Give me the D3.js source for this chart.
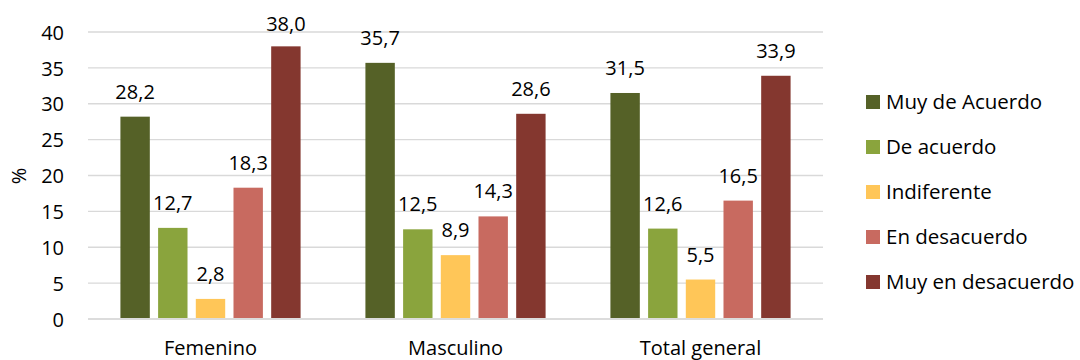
<!DOCTYPE html>
<html>
<head>
<meta charset="utf-8">
<script src="https://cdn.jsdelivr.net/npm/d3@7"></script>
<style>
  html, body { margin: 0; padding: 0; background: #fff; }
  svg { display: block; font-family: "Open Sans", sans-serif; }
</style>
</head>
<body>
<svg id="chart" width="1080" height="360"></svg>
<script>
// Survey responses (%) by sex
const categories = ["Femenino", "Masculino", "Total general"];
const seriesNames = ["Muy de Acuerdo", "De acuerdo", "Indiferente", "En desacuerdo", "Muy en desacuerdo"];
const muyDeAcuerdo     = [28.2, 35.7, 31.5];
const deAcuerdo        = [12.7, 12.5, 12.6];
const indiferente      = [2.8, 8.9, 5.5];
const enDesacuerdo     = [18.3, 14.3, 16.5];
const muyEnDesacuerdo  = [38.0, 28.6, 33.9];
const yTicks = [0, 5, 10, 15, 20, 25, 30, 35, 40];
const colors = ["#556127", "#8AA43D", "#FFC658", "#C86A60", "#84372F"];

const seriesValues = [muyDeAcuerdo, deAcuerdo, indiferente, enDesacuerdo, muyEnDesacuerdo];
const fmt = v => v.toFixed(1).replace(".", ",");
const FS = 20;

const svg = d3.select("#chart");
const plot = { left: 88, right: 823, top: 32, bottom: 319 };

const x0 = d3.scaleBand().domain(categories).range([plot.left, plot.right]).padding(0);
const x1 = d3.scaleBand().domain(seriesNames).range([0, x0.bandwidth()])
  .paddingInner(0.22).paddingOuter(0.86);
const y = d3.scaleLinear().domain([0, 40]).range([plot.bottom, plot.top]);

// horizontal gridlines
svg.append("g")
  .selectAll("line")
  .data(yTicks)
  .join("line")
  .attr("x1", plot.left).attr("x2", plot.right)
  .attr("y1", d => y(d)).attr("y2", d => y(d))
  .attr("stroke", d => d === 0 ? "#d0d0d0" : "#d9d9d9")
  .attr("stroke-width", 1.3);

// y axis tick labels
const yAxis = d3.axisLeft(y).tickValues(yTicks).tickSize(0).tickPadding(0);
const yg = svg.append("g").attr("transform", `translate(${plot.left - 24},0)`).call(yAxis);
yg.select(".domain").remove();
yg.selectAll("text")
  .attr("font-family", "Open Sans, sans-serif")
  .attr("font-size", FS)
  .attr("fill", "#000")
  .attr("dy", "0.36em");

// y axis title
svg.append("text")
  .attr("transform", `translate(26,176) rotate(-90)`)
  .attr("text-anchor", "middle")
  .attr("font-size", FS)
  .attr("fill", "#000")
  .text("%");

// x axis category labels
const xAxis = d3.axisBottom(x0).tickSize(0).tickPadding(0);
const xg = svg.append("g").attr("transform", `translate(0,${plot.bottom})`).call(xAxis);
xg.select(".domain").remove();
xg.selectAll("text")
  .attr("font-family", "Open Sans, sans-serif")
  .attr("font-size", FS)
  .attr("fill", "#000")
  .attr("dy", 0)
  .attr("y", 35.5);

// bars and value labels
const groups = svg.append("g")
  .selectAll("g")
  .data(categories)
  .join("g")
  .attr("transform", d => `translate(${x0(d)},0)`);

const cells = (c, ci) => seriesNames.map((s, si) => ({ s, si, v: seriesValues[si][ci] }));

groups.selectAll("rect")
  .data((c, ci) => cells(c, ci))
  .join("rect")
  .attr("x", d => x1(d.s))
  .attr("width", x1.bandwidth())
  .attr("y", d => y(d.v))
  .attr("height", d => y(0) - y(d.v) - 1)
  .attr("fill", d => colors[d.si]);

groups.selectAll("text")
  .data((c, ci) => cells(c, ci))
  .join("text")
  .attr("x", d => x1(d.s) + x1.bandwidth() / 2)
  .attr("y", d => Math.max(y(d.v) - 18, 30.5))
  .attr("text-anchor", "middle")
  .attr("font-size", FS)
  .attr("fill", "#000")
  .text(d => fmt(d.v));

// legend
const legend = svg.append("g")
  .selectAll("g")
  .data(seriesNames)
  .join("g")
  .attr("transform", (d, i) => `translate(866,${102 + i * 45})`);
legend.append("rect")
  .attr("x", 0).attr("y", -7)
  .attr("width", 14).attr("height", 14)
  .attr("fill", (d, i) => colors[i]);
legend.append("text")
  .attr("x", 20).attr("y", 0)
  .attr("dy", "0.36em")
  .attr("font-size", 20.5)
  .attr("fill", "#000")
  .text(d => d);
</script>
</body>
</html>
